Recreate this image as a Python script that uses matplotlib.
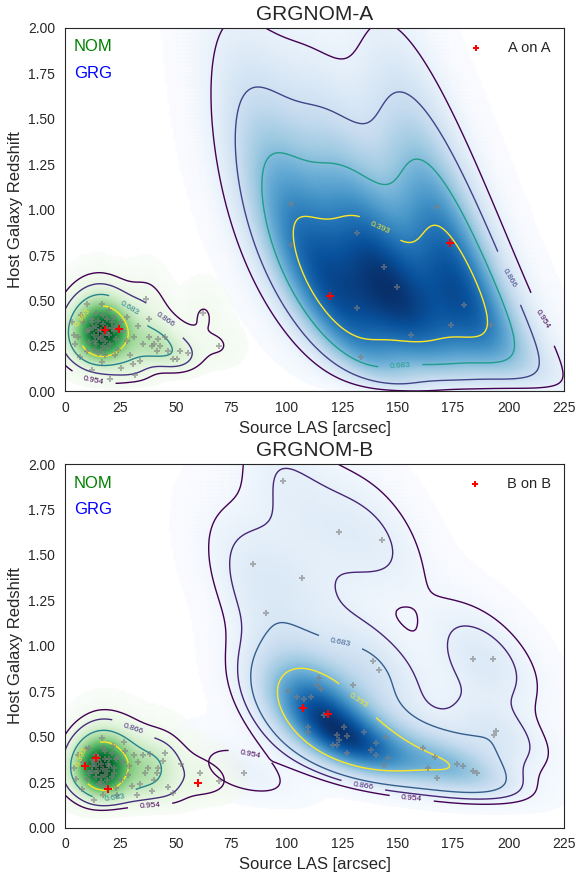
import numpy as np
import matplotlib
matplotlib.use("Agg")
import matplotlib.pyplot as plt
import seaborn as sns
from matplotlib.colors import ListedColormap

# ---- data (x = LAS arcsec, y = redshift) ----
grg_a_x = [101.8, 101.8, 131.8, 143.8, 149.8, 131.8, 155.9, 173.9, 179.9, 191.9, 167.6, 133.3]
grg_a_y = [1.031, 0.805, 0.869, 0.685, 0.575, 0.460, 0.308, 0.366, 0.473, 0.366, 1.017, 0.192]
red_grg_a_x = [119.5, 173.6]
red_grg_a_y = [0.525, 0.816]

nom_a_x = [9.8, 16.5, 3.0, 3.8, 4.5, 6.8, 12.0, 12.8, 13.5, 15.0, 16.5, 17.3, 18.8, 20.3, 22.5,
           27.8, 29.3, 30.8, 33.8, 39.1, 41.3, 36.5, 62.4, 69.6, 38.0, 38.0, 42.1, 40.1, 43.0,
           46.6, 51.8, 55.6, 48.5, 50.6, 20.3, 31.6, 14.0, 15.0, 17.0, 19.0, 21.0, 23.0, 25.0,
           10.0, 11.0, 8.0, 24.0, 26.0, 18.0, 13.0, 20.0, 22.0, 16.0, 10.0, 28.0, 31.0, 33.0,
           35.0, 6.0, 7.0, 12.0, 25.0, 45.0,
           14.0, 15.0, 16.0, 17.0, 18.0, 19.0, 20.0, 21.0, 13.0, 12.0, 17.0, 15.0, 19.0, 22.0,
           16.0, 23.0, 11.0, 14.0]
nom_a_y = [0.48, 0.48, 0.38, 0.31, 0.26, 0.19, 0.40, 0.35, 0.28, 0.21, 0.16, 0.37, 0.32, 0.26, 0.20,
           0.28, 0.20, 0.15, 0.17, 0.25, 0.22, 0.51, 0.43, 0.25, 0.40, 0.30, 0.29, 0.26, 0.25,
           0.22, 0.22, 0.21, 0.18, 0.18, 0.07, 0.09, 0.43, 0.30, 0.25, 0.40, 0.35, 0.29, 0.38,
           0.33, 0.27, 0.38, 0.23, 0.33, 0.20, 0.23, 0.45, 0.41, 0.34, 0.22, 0.41, 0.30, 0.36,
           0.26, 0.30, 0.42, 0.12, 0.13, 0.30,
           0.36, 0.33, 0.29, 0.31, 0.28, 0.35, 0.31, 0.38, 0.31, 0.38, 0.42, 0.39, 0.24, 0.33,
           0.22, 0.36, 0.34, 0.26]
red_nom_a_x = [18.2, 24.2]
red_nom_a_y = [0.337, 0.341]

grg_b_x = [98.4, 123.7, 142.8, 84.6, 106.7, 90.6, 80.7, 183.8, 192.8, 194.3, 193.5, 138.7, 141.7,
           114.7, 113.8, 115.4, 129.7, 100.7, 104.7, 107.8, 110.8, 116.9, 109.7, 109.7, 125.8,
           122.8, 127.0, 123.7, 120.7, 122.8, 127.0, 134.8, 144.7, 140.2, 138.2, 140.2, 145.8,
           143.8, 161.5, 166.8, 163.8, 167.9, 176.6, 179.6, 183.8, 185.9]
grg_b_y = [1.908, 1.624, 1.582, 1.448, 1.373, 1.181, 0.302, 0.925, 0.925, 0.532, 0.510, 0.918, 0.867,
           0.823, 0.786, 0.762, 0.786, 0.749, 0.721, 0.707, 0.721, 0.620, 0.553, 0.527, 0.553,
           0.508, 0.504, 0.482, 0.453, 0.453, 0.412, 0.527, 0.498, 0.467, 0.426, 0.399, 0.384,
           0.343, 0.439, 0.387, 0.326, 0.271, 0.348, 0.339, 0.311, 0.298]
red_grg_b_x = [107.4, 118.4]
red_grg_b_y = [0.660, 0.624]

nom_b_x = [16.5, 38.3, 6.0, 4.0, 5.0, 7.5, 11.0, 12.5, 14.0, 15.5, 17.0, 18.0, 19.5, 21.0, 23.0,
           26.0, 28.5, 30.0, 32.5, 36.0, 40.0, 35.0, 45.1, 44.0, 52.3, 46.6, 48.5, 60.9, 69.4,
           42.0, 39.0, 33.0, 27.0, 24.0, 22.0, 20.0, 18.0, 16.0, 14.0, 12.0, 10.0, 8.0, 21.5,
           25.0, 29.0, 31.0, 13.0, 17.5, 23.5, 9.5, 15.0, 19.0, 26.5, 34.0, 37.5, 41.5,
           14.0, 15.0, 16.0, 17.0, 18.0, 19.0, 20.0, 21.0, 13.0, 12.0, 17.0, 15.0, 19.0, 22.0,
           16.0, 23.0, 11.0, 14.0]
nom_b_y = [0.495, 0.403, 0.40, 0.33, 0.27, 0.21, 0.44, 0.37, 0.30, 0.24, 0.18, 0.42, 0.35, 0.28, 0.22,
           0.36, 0.29, 0.23, 0.18, 0.30, 0.26, 0.40, 0.413, 0.366, 0.348, 0.224, 0.188, 0.298, 0.256,
           0.33, 0.20, 0.36, 0.42, 0.39, 0.33, 0.38, 0.29, 0.35, 0.40, 0.31, 0.27, 0.36, 0.45,
           0.26, 0.34, 0.40, 0.15, 0.23, 0.18, 0.43, 0.39, 0.26, 0.47, 0.24, 0.33, 0.30,
           0.34, 0.31, 0.28, 0.32, 0.38, 0.31, 0.34, 0.41, 0.36, 0.34, 0.44, 0.37, 0.22, 0.30,
           0.25, 0.38, 0.30, 0.28]
red_nom_b_x = [13.9, 9.0, 19.5, 59.8]
red_nom_b_y = [0.385, 0.339, 0.210, 0.243]

masses = [0.954, 0.866, 0.683, 0.393]
mass_labels = ['0.954', '0.866', '0.683', '0.393']

sns.set_style('white')
plt.rcParams['font.family'] = ['Liberation Sans', 'DejaVu Sans']


def kde_grid(xs, ys, sx, sz, rho, gx, gz):
    # gaussian kde evaluated in (x, sqrt(z)) space
    zs = np.sqrt(np.asarray(ys))
    cov = np.array([[sx ** 2, rho * sx * sz], [rho * sx * sz, sz ** 2]])
    inv = np.linalg.inv(cov)
    dens = np.zeros_like(gx)
    for x0, z0 in zip(xs, zs):
        dx = gx - x0
        dz = gz - z0
        dens += np.exp(-0.5 * (inv[0, 0] * dx * dx + 2 * inv[0, 1] * dx * dz + inv[1, 1] * dz * dz))
    return dens / dens.sum()


def mass_levels(dens):
    flat = np.sort(dens.ravel())[::-1]
    cum = np.cumsum(flat)
    return [flat[np.searchsorted(cum, m)] for m in masses]


def alpha_cmap(name):
    base = plt.get_cmap(name)(np.linspace(0, 1, 256))
    base[:, 3] = np.clip(np.linspace(0, 1, 256) * 12, 0, 1)
    return ListedColormap(base)


gxs = np.linspace(-40, 280, 340)
gzs = np.linspace(-0.7, 2.0, 340)
GX, GZ = np.meshgrid(gxs, gzs)
pos = gzs >= 0


def draw_group(ax, xs, ys, bw, cmap):
    dens = kde_grid(xs, ys, bw[0], bw[1], bw[2], GX, GZ)
    lev = mass_levels(dens)
    X = GX[pos]
    Y = GZ[pos] ** 2
    D = dens[pos]
    ax.pcolormesh(X, Y, D / D.max(), cmap=alpha_cmap(cmap), shading='gouraud', zorder=1)
    cs = ax.contour(X, Y, D, levels=lev, cmap='viridis', linewidths=1.0, zorder=2)
    ax.clabel(cs, fmt=dict(zip(lev, mass_labels)), fontsize=6, inline=True)


fig, axes = plt.subplots(2, 1, figsize=(5.76, 8.73), dpi=100)
fig.subplots_adjust(left=0.113, right=0.979, top=0.968, bottom=0.052, hspace=0.2)

panels = [
    ('GRGNOM-A', 'A on A', grg_a_x, grg_a_y, red_grg_a_x, red_grg_a_y, nom_a_x, nom_a_y,
     red_nom_a_x, red_nom_a_y, (19, 0.24, -0.72)),
    ('GRGNOM-B', 'B on B', grg_b_x, grg_b_y, red_grg_b_x, red_grg_b_y, nom_b_x, nom_b_y,
     red_nom_b_x, red_nom_b_y, (15, 0.095, -0.5)),
]

for ax, p in zip(axes, panels):
    title, leg, gx_, gy_, rgx, rgy, nx_, ny_, rnx, rny, bw = p
    draw_group(ax, gx_ + rgx, gy_ + rgy, bw, 'Blues')
    draw_group(ax, nx_ + rnx, ny_ + rny, (6.0, 0.07, 0.0), 'Greens')
    ax.scatter(gx_ + nx_, gy_ + ny_, marker='P', s=14, color='gray', alpha=0.6, linewidths=0, zorder=3)
    ax.scatter(rgx + rnx, rgy + rny, marker='P', s=30, color='red', linewidths=0, zorder=4, label=leg)
    ax.text(0.018, 0.948, 'NOM', color='green', fontsize=12, transform=ax.transAxes, va='center')
    ax.text(0.018, 0.876, 'GRG', color='blue', fontsize=12, transform=ax.transAxes, va='center')
    ax.legend(loc='upper right', frameon=False, fontsize=10.5, markerscale=0.7, handletextpad=1.2)
    ax.set_xlim(0, 225)
    ax.set_ylim(0, 2.0)
    ax.set_xticks(np.arange(0, 226, 25))
    ax.set_yticks(np.arange(0, 2.01, 0.25))
    ax.set_yticklabels(['%.2f' % v for v in np.arange(0, 2.01, 0.25)])
    ax.tick_params(labelsize=10)
    ax.set_title(title, fontsize=15)
    ax.set_xlabel('Source LAS [arcsec]', fontsize=12)
    ax.set_ylabel('Host Galaxy Redshift', fontsize=12)

plt.savefig('out.png', dpi=100)
